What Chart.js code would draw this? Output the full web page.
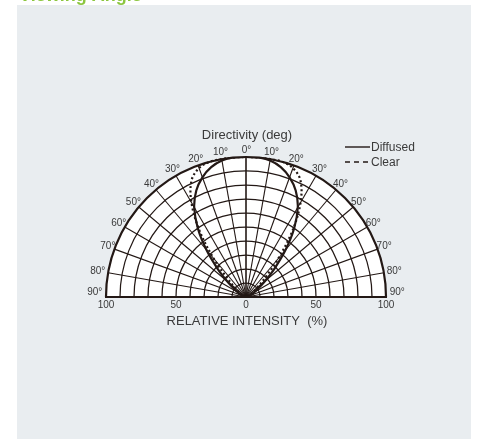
<!DOCTYPE html>
<html>
<head>
<meta charset="utf-8">
<script src="https://cdn.jsdelivr.net/npm/chart.js@4/dist/chart.umd.min.js"></script>
<style>
  html, body { margin:0; padding:0; background:#ffffff; }
  canvas { display:block; }
</style>
</head>
<body>
<canvas id="c" width="478" height="439"></canvas>
<script>
// ---- data ----
const angles   = [0, 5, 10, 15, 20, 25, 30, 35, 40, 45, 50, 55, 60, 65, 70, 75, 80, 85, 90];
const diffused = [100, 100, 99, 96, 91, 84, 74, 60, 44, 29, 18, 11, 7, 5, 3, 2, 1, 0.5, 0];
const clear    = [100, 100, 100, 100, 98, 92, 78, 58, 36, 19, 10, 6, 4, 3, 2, 1.5, 1, 0.5, 0];
const seriesNames = ['Diffused', 'Clear'];
const gridAngles = [0, 10, 20, 30, 40, 50, 60, 70, 80, 90];
const gridRadii  = [10, 20, 30, 40, 50, 60, 70, 80, 90, 100];
const xTickValues = [-100, -50, 0, 50, 100];
const xTickLabels = ['100', '50', '0', '50', '100'];
const chartTitle = 'Viewing Angle';
const polarTitle = 'Directivity (deg)';
const axisTitle  = 'RELATIVE INTENSITY  (%)';

// polar -> cartesian table for the library (both halves, mirrored)
function toPoints(vals) {
  const pts = [];
  for (let i = angles.length - 1; i >= 0; i--) {
    const t = angles[i] * Math.PI / 180;
    pts.push({ x: -vals[i] * Math.sin(t), y: vals[i] * Math.cos(t) });
  }
  for (let i = 1; i < angles.length; i++) {
    const t = angles[i] * Math.PI / 180;
    pts.push({ x: vals[i] * Math.sin(t), y: vals[i] * Math.cos(t) });
  }
  return pts;
}

const INK = '#231815';
const TXT = '#3a3a3a';
const FONT = '"Liberation Sans", Arial, Helvetica, sans-serif';

const decor = {
  id: 'decor',
  beforeDraw(chart) {
    const ctx = chart.ctx;
    ctx.save();
    ctx.fillStyle = '#ffffff';
    ctx.fillRect(0, 0, chart.width, chart.height);
    ctx.fillStyle = '#e9edf0';
    ctx.fillRect(17, 5, 454, 434);
    // title (partly cut at top)
    ctx.fillStyle = '#8cc63f';
    ctx.font = 'bold 18px ' + FONT;
    ctx.textAlign = 'left';
    ctx.textBaseline = 'alphabetic';
    ctx.fillText(chartTitle, 19, 1);
    ctx.restore();
  },
  beforeDatasetsDraw(chart) {
    const ctx = chart.ctx;
    const xs = chart.scales.x, ys = chart.scales.y;
    const cx = xs.getPixelForValue(0), cy = ys.getPixelForValue(0);
    const k = xs.getPixelForValue(100) - cx; // px per 100
    ctx.save();
    // white semicircle
    ctx.beginPath();
    ctx.moveTo(cx - k, cy);
    ctx.arc(cx, cy, k, Math.PI, 2 * Math.PI);
    ctx.closePath();
    ctx.fillStyle = '#ffffff';
    ctx.fill();
    // concentric arcs
    ctx.strokeStyle = INK;
    ctx.lineWidth = 1.25;
    gridRadii.forEach(r => {
      if (r === 100) return;
      ctx.beginPath();
      ctx.arc(cx, cy, k * r / 100, Math.PI, 2 * Math.PI);
      ctx.stroke();
    });
    // radial lines
    ctx.lineWidth = 1.1;
    gridAngles.forEach(a => {
      const t = a * Math.PI / 180;
      [-1, 1].forEach(s => {
        ctx.beginPath();
        ctx.moveTo(cx, cy);
        ctx.lineTo(xs.getPixelForValue(s * 100 * Math.sin(t)), ys.getPixelForValue(100 * Math.cos(t)));
        ctx.stroke();
      });
    });
    // outer arc + baseline
    ctx.lineWidth = 2.2;
    ctx.beginPath();
    ctx.arc(cx, cy, k, Math.PI, 2 * Math.PI);
    ctx.stroke();
    ctx.beginPath();
    ctx.moveTo(cx - k - 1, cy);
    ctx.lineTo(cx + k + 1, cy);
    ctx.stroke();
    ctx.restore();
  },
  afterDraw(chart) {
    const ctx = chart.ctx;
    const xs = chart.scales.x, ys = chart.scales.y;
    const cy = ys.getPixelForValue(0);
    ctx.save();
    ctx.fillStyle = TXT;
    ctx.textAlign = 'center';
    ctx.textBaseline = 'middle';
    // angle labels
    ctx.font = '10px ' + FONT;
    gridAngles.forEach(a => {
      const t = a * Math.PI / 180;
      const R = a >= 90 ? 108 : (a >= 80 ? 107.5 : 105);
      const dy = a >= 90 ? -5 : 0;
      const sides = a === 0 ? [1] : [-1, 1];
      sides.forEach(s => {
        const x = xs.getPixelForValue(s * R * Math.sin(t)) + (a === 0 ? 0.5 : 0);
        const y = ys.getPixelForValue(R * Math.cos(t)) + dy;
        ctx.fillText(a + '°', x, y);
      });
    });
    // x tick labels
    xTickValues.forEach((v, i) => {
      ctx.fillText(xTickLabels[i], xs.getPixelForValue(v), cy + 8);
    });
    // titles
    ctx.font = '13px ' + FONT;
    ctx.fillText(polarTitle, xs.getPixelForValue(0) + 1, ys.getPixelForValue(100) - 22);
    ctx.fillText(axisTitle, xs.getPixelForValue(0) + 1, cy + 24);
    // legend
    ctx.textAlign = 'left';
    ctx.font = '12px ' + FONT;
    const lx = 345, lw = 25;
    const rows = [147, 162];
    chart.data.datasets.forEach((ds, i) => {
      ctx.strokeStyle = INK;
      ctx.lineWidth = 1.4;
      ctx.setLineDash(i === 0 ? [] : [5, 4]);
      ctx.beginPath();
      ctx.moveTo(lx, rows[i]);
      ctx.lineTo(lx + lw, rows[i]);
      ctx.stroke();
      ctx.setLineDash([]);
      ctx.fillStyle = TXT;
      ctx.fillText(ds.label, lx + lw + 1, rows[i] + 0.5);
    });
    ctx.restore();
  }
};

new Chart(document.getElementById('c'), {
  type: 'scatter',
  data: {
    datasets: [
      { label: seriesNames[0], data: toPoints(diffused), showLine: true, borderColor: INK,
        borderWidth: 2.2, pointRadius: 0, tension: 0.35 },
      { label: seriesNames[1], data: toPoints(clear), showLine: true, borderColor: INK,
        borderWidth: 2.2, borderDash: [2, 2.5], pointRadius: 0, tension: 0.35 }
    ]
  },
  options: {
    responsive: false,
    animation: false,
    layout: { padding: { left: 106, right: 92, top: 157, bottom: 142 } },
    scales: {
      x: { type: 'linear', min: -100, max: 100, display: false },
      y: { type: 'linear', min: 0, max: 100, display: false }
    },
    plugins: { legend: { display: false }, tooltip: { enabled: false } },
    events: []
  },
  plugins: [decor]
});
</script>
</body>
</html>
